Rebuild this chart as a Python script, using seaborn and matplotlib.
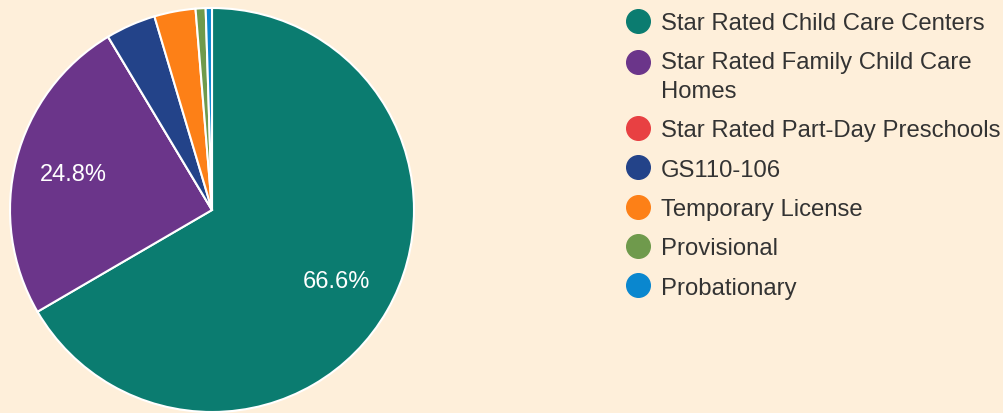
import matplotlib
matplotlib.use("Agg")
import matplotlib.pyplot as plt
import seaborn as sns
from matplotlib.lines import Line2D
from matplotlib.legend_handler import HandlerLine2D

# data
categories = [
    "Star Rated Child Care Centers",
    "Star Rated Family Child Care\nHomes",
    "Star Rated Part-Day Preschools",
    "GS110-106",
    "Temporary License",
    "Provisional",
    "Probationary",
]
shares = [66.6, 24.8, 0.0, 4.0, 3.3, 0.8, 0.5]
colors = ["#0b7c70", "#6b358a", "#e84042", "#234389", "#fd8017", "#6f9a4c", "#0a87cf"]

bg = "#feefda"

sns.set_theme(style="white")
plt.rcParams["font.family"] = ["Liberation Sans", "DejaVu Sans"]

fig = plt.figure(figsize=(10.04, 4.14), dpi=100, facecolor=bg)
ax = fig.add_axes([10 / 1004, 1 / 414, 404 / 1004, 404 / 414])
ax.set_facecolor(bg)

# only label the big slices
def pct_label(p):
    return f"{p:.1f}%" if p > 10 else ""

wedges, texts, autotexts = ax.pie(
    shares, colors=colors, startangle=90, counterclock=False,
    autopct=pct_label, pctdistance=0.71, radius=1,
    wedgeprops={"edgecolor": "white", "linewidth": 1.5},
    textprops={"color": "white", "fontsize": 17},
)
ax.set_xlim(-1.0, 1.0)
ax.set_ylim(-1.0, 1.0)
ax.axis("off")


# legend marker sits next to the first line of a wrapped label
class TopMarker(HandlerLine2D):
    def __init__(self, shift, **kw):
        super().__init__(**kw)
        self.shift = shift

    def create_artists(self, legend, orig_handle, xdescent, ydescent,
                       width, height, fontsize, trans):
        arts = super().create_artists(legend, orig_handle, xdescent, ydescent,
                                      width, height, fontsize, trans)
        for a in arts:
            a.set_ydata([y + self.shift for y in a.get_ydata()])
        return arts


handles = [Line2D([0], [0], marker="o", linestyle="", markersize=17,
                  markerfacecolor=c, markeredgecolor=c) for c in colors]
handler_map = {handles[1]: TopMarker(10.4, numpoints=1)}
leg = fig.legend(handles, categories, loc="upper left",
                 bbox_to_anchor=(626 / 1004, 1 - 13 / 414),
                 frameon=False, fontsize=17.2, labelcolor="#333333",
                 handlelength=1.0, handletextpad=0.45, labelspacing=0.725,
                 borderpad=0.0, borderaxespad=0.0, handler_map=handler_map)
for t in leg.get_texts():
    t.set_linespacing(1.4)

plt.savefig("out.png", dpi=100, facecolor=bg)
